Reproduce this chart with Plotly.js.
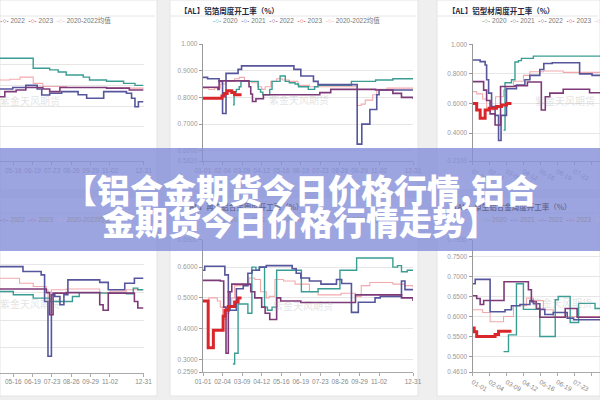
<!DOCTYPE html>
<html><head><meta charset="utf-8">
<script src="https://cdn.plot.ly/plotly-3.0.1.min.js"></script>
<style>html,body{margin:0;padding:0;background:#efefef;}#chart{width:600px;height:400px;}</style>
</head><body><div id="chart"></div>
<script>
// ---------- shared axis labels ----------
const dayTicks = [0,34,68,102,136,170,204,238,272,306,365];
const dayLabels = ['01-01','02-04','03-09','04-12','05-16','06-19','07-23','08-26','09-29','11-02','12-31'];
const seriesNames = ['2020','2021','2022','2023','2020-2022均值'];
const bannerLine1 = '【铝合金期货今日价格行情,铝合';
const bannerLine2 = '金期货今日价格行情走势】';
const watermark = '紫金天风期货';

// ---------- top-left panel (铝板带) ----------
const ltTitle = '【AL】铝板带周度开工率（%）';
const ltTicks = [0.6,0.7,0.8,0.9,1.0];
const lt2020x = [112,171,200,215,229,259,270,300,330,350,365];
const lt2020y = [0.931,0.883,0.875,0.865,0.85,0.84,0.826,0.82,0.81,0.80,0.80];
const lt2021x = [112,135,158,178,186,200,221,250,265,295,335,344,350,356,365];
const lt2021y = [0.783,0.79,0.80,0.783,0.754,0.762,0.77,0.755,0.738,0.77,0.762,0.738,0.697,0.721,0.721];
const lt2022x = [112,121,141,158,188,200,218,260,300,340,365];
const lt2022y = [0.745,0.77,0.778,0.79,0.783,0.77,0.79,0.79,0.787,0.778,0.778];
const ltavgx = [112,130,148,171,188,230,300,365];
const ltavgy = [0.826,0.83,0.84,0.81,0.795,0.79,0.787,0.78];

// ---------- top-middle panel (铝箔) ----------
const mtTitle = '【AL】铝箔周度开工率（%）';
const mtTicks = [0.562,0.6,0.7,0.8,0.9,1.0];
const mt2020x = [52,54,58,63,66,96,100,104,116,120,124,134,143,150,160,166,183,194,200,255,258,300,330,365];
const mt2020y = [0.772,0.82,0.83,0.84,0.86,0.83,0.82,0.81,0.83,0.86,0.86,0.88,0.86,0.855,0.85,0.84,0.83,0.84,0.845,0.845,0.86,0.865,0.87,0.868];
const mt2021x = [0,8,28,34,40,61,67,150,158,170,192,200,267,268,276,290,302,306,365];
const mt2021y = [0.875,0.87,0.86,0.74,0.89,0.905,0.918,0.918,0.905,0.88,0.86,0.848,0.848,0.625,0.70,0.755,0.81,0.828,0.83];
const mt2022x = [0,26,28,80,83,86,92,105,116,203,222,300,330,345,365];
const mt2022y = [0.838,0.83,0.862,0.84,0.813,0.785,0.795,0.81,0.81,0.818,0.83,0.828,0.815,0.80,0.795];
const mt2023x = [0,33,37,42,50,55,67];
const mt2023y = [0.797,0.805,0.815,0.825,0.818,0.81,0.81];
const mtavgx = [0,10,20,30,40,55,63,72,85,95,102,108,118,128,138,150,165,185,266,268,275,282,295,302,320,365];
const mtavgy = [0.835,0.83,0.835,0.85,0.86,0.87,0.875,0.86,0.855,0.84,0.83,0.84,0.86,0.87,0.865,0.86,0.845,0.84,0.84,0.77,0.775,0.79,0.81,0.83,0.835,0.835];

// ---------- top-right panel (铝型材) ----------
const rtTitle = '【AL】铝型材周度开工率（%）';
const rtTicks = [0.21,0.4,0.6,0.8,1.0];
const rt2020x = [62,65,78,85,92,98,122,256];
const rt2020y = [0.42,0.74,0.76,0.88,0.89,0.905,0.92,0.917];
const rt2021x = [0,15,25,28,32,38,45,52,57,68,88,105,115,135,143,160,215,240,256];
const rt2021y = [0.894,0.883,0.86,0.76,0.67,0.58,0.52,0.35,0.52,0.70,0.725,0.76,0.79,0.83,0.87,0.875,0.80,0.79,0.79];
const rt2022x = [0,22,28,35,45,56,85,110,138,146,155,182,235,256];
const rt2022y = [0.748,0.69,0.62,0.53,0.455,0.715,0.72,0.745,0.556,0.646,0.67,0.696,0.673,0.67];
const rt2023x = [0,8,15,25,33,48,58,68,78];
const rt2023y = [0.60,0.556,0.50,0.556,0.568,0.58,0.59,0.60,0.60];
const rtavgx = [0,8,20,28,42,46,62,68,82,102,115,142,182,256];
const rtavgy = [0.68,0.665,0.63,0.556,0.556,0.646,0.69,0.714,0.75,0.79,0.815,0.82,0.81,0.81];

// ---------- bottom-left panel (铝线缆) ----------
const lbTitle = '【AL】铝线缆周度开工率（%）';
const lbTicks = [0.5,0.6,0.7,0.8];
const lb2020x = [112,136,171,200,229,240,252,290,335,347,355,365];
const lb2020y = [0.704,0.692,0.68,0.668,0.668,0.686,0.70,0.698,0.696,0.716,0.71,0.71];
const lb2021x = [112,153,185,191,197,203,209,218,225,232,288,303,332,349,365];
const lb2021y = [0.794,0.776,0.764,0.668,0.47,0.692,0.686,0.656,0.692,0.746,0.737,0.71,0.734,0.752,0.752];
const lb2022x = [112,194,200,206,229,288,294,303,332,349,355,365];
const lb2022y = [0.713,0.70,0.62,0.698,0.70,0.656,0.636,0.698,0.698,0.668,0.644,0.644];
const lbavgx = [112,147,171,194,197,203,229,288,306,335,349,365];
const lbavgy = [0.752,0.734,0.722,0.71,0.62,0.71,0.713,0.70,0.705,0.71,0.71,0.71];

// ---------- bottom-middle panel (再生铝合金) ----------
const mbTitle = '【AL】再生铝合金周度开工率（%）';
const mbTicks = [0.259,0.3,0.4,0.5,0.6,0.69];
const mb2020x = [52,55,61,78,85,92,98,107,112,120,128,171,200,237,238,267,330,338,345,355,365];
const mb2020y = [0.285,0.32,0.48,0.45,0.60,0.59,0.60,0.47,0.46,0.47,0.59,0.52,0.53,0.53,0.59,0.63,0.60,0.605,0.585,0.59,0.59];
const mb2021x = [0,3,38,44,47,58,70,78,85,98,110,145,155,162,170,185,205,232,241,258,270,299,308,345,351,365];
const mb2021y = [0.59,0.603,0.575,0.52,0.46,0.53,0.54,0.58,0.59,0.60,0.605,0.605,0.595,0.58,0.565,0.555,0.545,0.56,0.547,0.453,0.486,0.50,0.505,0.555,0.527,0.525];
const mb2022x = [0,30,36,40,44,50,80,83,90,102,108,116,128,135,170,265,330,345,365];
const mb2022y = [0.557,0.555,0.47,0.32,0.52,0.545,0.545,0.52,0.50,0.47,0.45,0.43,0.50,0.49,0.485,0.51,0.51,0.50,0.49];
const mb2023x = [0,9,18,35,38,44,55,61,67];
const mb2023y = [0.49,0.338,0.395,0.44,0.46,0.472,0.487,0.50,0.50];
const mbavgx = [0,10,25,30,34,40,45,50,55,80,90,100,110,115,125,140,160,185,200,240,265,275,290,330,350,365];
const mbavgy = [0.49,0.50,0.49,0.47,0.43,0.45,0.47,0.50,0.54,0.565,0.56,0.52,0.50,0.505,0.56,0.555,0.545,0.52,0.51,0.515,0.505,0.54,0.55,0.545,0.54,0.535];

// ---------- bottom-right panel (原生铝合金) ----------
const rbTitle = '【AL】原生铝合金周度开工率（%）';
const rbTicks = [0.461,0.5,0.55,0.6,0.65,0.7,0.75,0.793];
const rb2020x = [62,72,88,102,135,166,172,196,213,246,256];
const rb2020y = [0.512,0.554,0.682,0.618,0.55,0.642,0.65,0.585,0.633,0.62,0.62];
const rb2021x = [0,5,35,65,78,95,115,122,135,145,162,190,203,256];
const rb2021y = [0.682,0.693,0.612,0.617,0.627,0.63,0.64,0.632,0.618,0.605,0.61,0.596,0.592,0.592];
const rb2022x = [0,8,15,22,63,112,118,128,135,186,210,256];
const rb2022y = [0.652,0.645,0.63,0.64,0.687,0.667,0.637,0.62,0.598,0.62,0.598,0.598];
const rb2023x = [0,3,8,45,52,78];
const rb2023y = [0.571,0.562,0.55,0.555,0.563,0.563];
const rbavgx = [0,20,35,62,82,108,122,142,162,196,256];
const rbavgy = [0.617,0.61,0.587,0.6,0.627,0.646,0.64,0.617,0.6,0.6,0.6];

// ---------- styling ----------
const COLORS = ['#3a9d94','#55569b','#7e3a78','#d9262b','#f2a9ad'];
const WIDTHS = [1.4,1.6,1.6,3,1.1];
const W = 600, H = 400;
const fx = p => p / W, fy = p => 1 - p / H;
const fmt = v => v >= 1 ? v.toFixed(3) : v.toFixed(4);

const panels = [
  {title:ltTitle, ticks:ltTicks, ser:[[lt2020x,lt2020y],[lt2021x,lt2021y],[lt2022x,lt2022y],null,[ltavgx,ltavgy]],
   px:[0,143.5], py:[44,161], xr:[112.6,365], yr:[0.435,1.0], showY:false,
   box:[0,157,0,190], tx:3, ta:'right', ty:11, lx:113, la:'right', ly:20, wx:30, wy:101},
  {title:mtTitle, ticks:mtTicks, ser:[[mt2020x,mt2020y],[mt2021x,mt2021y],[mt2022x,mt2022y],[mt2023x,mt2023y],[mtavgx,mtavgy]],
   px:[203,413], py:[44,161], xr:[0,365], yr:[0.562,1.0], showY:true,
   box:[170,418,0,190], tx:178, ta:'left', ty:11, lx:296, la:'center', ly:20, wx:299, wy:99},
  {title:rtTitle, ticks:rtTicks, ser:[[rt2020x,rt2020y],[rt2021x,rt2021y],[rt2022x,rt2022y],[rt2023x,rt2023y],[rtavgx,rtavgy]],
   px:[472.7,600], py:[44.3,161.2], xr:[0,256], yr:[0.21,1.0], showY:true,
   box:[437,600,0,190], tx:446, ta:'left', ty:11, lx:480, la:'left', ly:20, wx:565, wy:100},
  {title:lbTitle, ticks:lbTicks, ser:[[lb2020x,lb2020y],[lb2021x,lb2021y],[lb2022x,lb2022y],null,[lbavgx,lbavgy]],
   px:[0,143.5], py:[239.5,372.5], xr:[112.6,365], yr:[0.411,0.892], showY:false,
   box:[0,157,197,396], tx:3, ta:'right', ty:207, lx:113, la:'right', ly:219, wx:30, wy:303, under:true},
  {title:mbTitle, ticks:mbTicks, ser:[[mb2020x,mb2020y],[mb2021x,mb2021y],[mb2022x,mb2022y],[mb2023x,mb2023y],[mbavgx,mbavgy]],
   px:[203,413], py:[239.5,372], xr:[0,365], yr:[0.259,0.69], showY:true,
   box:[170,418,197,396], tx:180, ta:'left', ty:207, lx:296, la:'center', ly:219, wx:303, wy:305, under:true},
  {title:rbTitle, ticks:rbTicks, ser:[[rb2020x,rb2020y],[rb2021x,rb2021y],[rb2022x,rb2022y],[rb2023x,rb2023y],[rbavgx,rbavgy]],
   px:[472.7,600], py:[239.5,372], xr:[0,256], yr:[0.461,0.793], showY:true,
   box:[437,600,197,396], tx:448, ta:'left', ty:207, lx:480, la:'left', ly:219, wx:562, wy:302, under:true}
];

const traces = [];
const layout = {
  width: W, height: H, margin:{l:0,r:0,t:0,b:0},
  paper_bgcolor:'#efefef', plot_bgcolor:'rgba(0,0,0,0)', showlegend:false,
  font:{family:'Liberation Sans, Arial, sans-serif', size:7, color:'#999'},
  shapes:[], annotations:[]
};
const legendText = () => seriesNames.map((n,i) =>
  `<span style="color:${COLORS[i]}">-○-</span> ${n}`).join('\u00a0\u00a0');

panels.forEach((p, k) => {
  const n = k === 0 ? '' : String(k + 1);
  const xa = 'x' + n, ya = 'y' + n;
  const order = [4,0,1,2,3];
  order.forEach(i => {
    const s = p.ser[i];
    if (!s) return;
    traces.push({type:'scatter', mode:'lines', x:s[0], y:s[1], xaxis:xa, yaxis:ya,
      line:{shape:'hv', color:COLORS[i], width:WIDTHS[i]}, hoverinfo:'skip', showlegend:false});
  });
  layout['xaxis' + n] = {
    domain:[fx(p.px[0]), fx(p.px[1])], range:p.xr, anchor:ya, automargin:false,
    tickmode:'array', tickvals:dayTicks, ticktext:dayLabels, showgrid:false, zeroline:false,
    showline:true, linecolor:'#aaa', linewidth:1, ticks:'outside', ticklen:3, tickcolor:'#aaa',
    tickfont:{size:6.5, color:'#888'}
  };
  layout['yaxis' + n] = {
    domain:[fy(p.py[1]), fy(p.py[0])], range:p.yr, anchor:xa, automargin:false,
    tickmode:'array', tickvals:p.ticks, ticktext:p.ticks.map(fmt), showgrid:true, gridcolor:'#e6e6e6',
    zeroline:false, showline:p.showY, linecolor:'#999', linewidth:1.2, ticks:p.showY ? 'outside' : '',
    ticklen:3, tickcolor:'#999', showticklabels:p.showY, tickfont:{size:6.5, color:'#999'}
  };
  layout.shapes.push({type:'rect', xref:'paper', yref:'paper', layer:'below',
    x0:fx(p.box[0]), x1:fx(p.box[1]), y0:fy(p.box[3]), y1:fy(p.box[2]),
    fillcolor:'#ffffff', line:{color:'#e4e4e4', width:1}});
  layout.shapes.push({type:'line', xref:'paper', yref:'paper', layer:'below',
    x0:fx(p.box[0]), x1:fx(p.box[1] - 2), y0:fy(p.box[2] + 16), y1:fy(p.box[2] + 16),
    line:{color:'#e6e6e6', width:1}});
  const dim = p.under ? 0.45 : 1;
  layout.annotations.push({text:'<b>' + p.title + '</b>', xref:'paper', yref:'paper', showarrow:false,
    x:fx(p.tx), y:fy(p.ty), xanchor:p.ta, yanchor:'middle',
    font:{family:'Noto Sans CJK SC, sans-serif', size:7.5, color:`rgba(40,40,60,${dim})`}});
  layout.annotations.push({text:legendText(), xref:'paper', yref:'paper', showarrow:false,
    x:fx(p.lx), y:fy(p.ly), xanchor:p.la, yanchor:'middle', opacity:dim,
    font:{family:'Liberation Sans, Noto Sans CJK SC, sans-serif', size:6.5, color:'#777'}});
  layout.annotations.push({text:watermark, xref:'paper', yref:'paper', showarrow:false,
    x:fx(p.wx), y:fy(p.wy), xanchor:'center', yanchor:'middle',
    font:{family:'Noto Sans CJK SC, sans-serif', size:10, color:'rgba(150,150,150,0.28)'}});
});

// purple banner across the middle
layout.shapes.push({type:'rect', xref:'paper', yref:'paper', layer:'above',
  x0:0, x1:1, y0:fy(251), y1:fy(148), fillcolor:'rgba(132,142,216,0.8)', line:{width:0}});
layout.annotations.push({text:bannerLine1, xref:'paper', yref:'paper', showarrow:false,
  x:fx(301), y:fy(189), xanchor:'center', yanchor:'middle',
  font:{family:'Noto Sans CJK SC, sans-serif', size:33, color:'#ffffff', weight:900}});
layout.annotations.push({text:bannerLine2, xref:'paper', yref:'paper', showarrow:false,
  x:fx(300), y:fy(221), xanchor:'center', yanchor:'middle',
  font:{family:'Noto Sans CJK SC, sans-serif', size:33, color:'#ffffff', weight:900}});

Plotly.newPlot('chart', traces, layout, {staticPlot:true, displayModeBar:false});
</script></body></html>
